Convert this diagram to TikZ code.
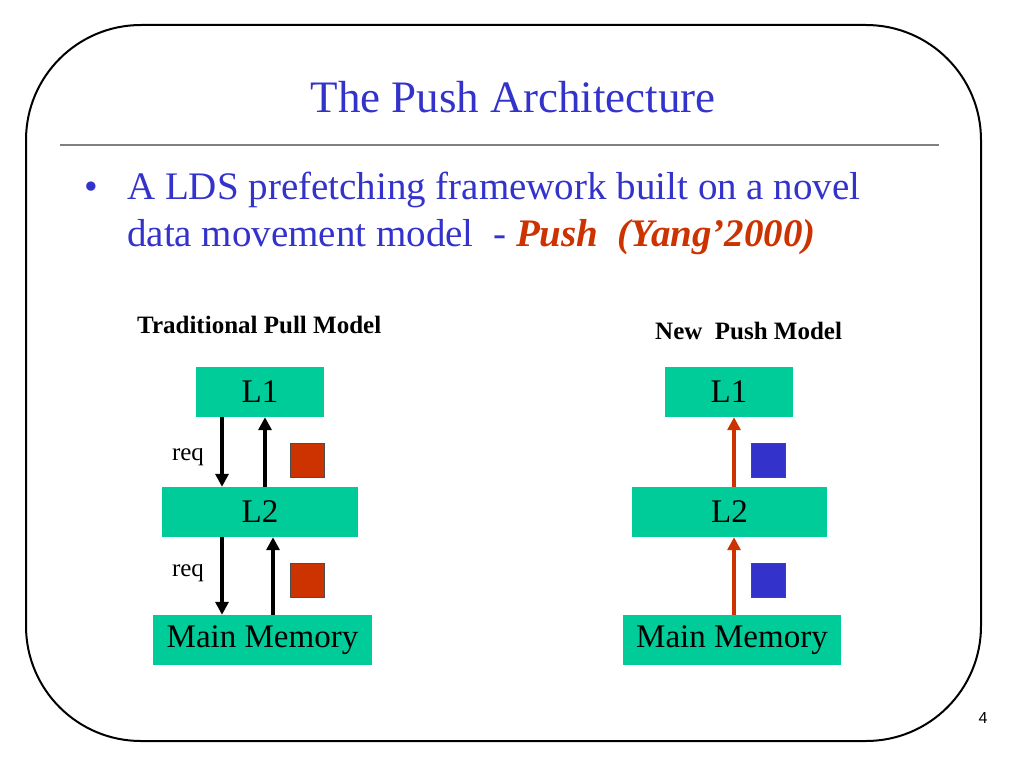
\documentclass[tikz,border=0pt]{standalone}
\usepackage{fontspec}
\setmainfont{Liberation Serif}
\newfontfamily\pagefont{Liberation Sans}
\usetikzlibrary{arrows.meta}
\definecolor{ttl}{RGB}{51,51,204}
\definecolor{pushred}{RGB}{204,51,0}
\definecolor{teal}{RGB}{0,204,153}
\definecolor{sqblue}{RGB}{51,51,204}
\definecolor{rulegray}{RGB}{128,128,128}
\tikzset{
  box/.style={fill=teal, inner sep=0pt, minimum height=50pt, font=\fontsize{33}{35}\selectfont},
  sq/.style={draw=black!70, line width=0.6pt, minimum size=34pt, inner sep=0pt},
  arr/.style={line width=3.4pt, -{Triangle[width=13pt,length=13pt]}},
  lbl/.style={inner sep=0pt, anchor=base, font=\bfseries\fontsize{25}{27}\selectfont},
  reqtxt/.style={inner sep=0pt, font=\fontsize{25}{27}\selectfont},
  bodytxt/.style={inner sep=0pt, anchor=base west, text=ttl, font=\fontsize{39}{41}\selectfont},
}
\begin{document}
\begin{tikzpicture}[x=1pt,y=-1pt]
\useasboundingbox (0,0) rectangle (1024,768);
\draw[line width=2pt, rounded corners=115pt] (26,25) rectangle (981,741);
\node[inner sep=0pt, anchor=base, text=ttl, font=\fontsize{45}{47}\selectfont] (title) at (513,112) {The Push Architecture};
\draw[rulegray, line width=2pt] (60,145) -- (939,145);
\node[bodytxt] (bullet) at (84,199) {\textbullet};
\node[bodytxt] (line1) at (127,199) {A LDS prefetching framework built on a novel};
\node[bodytxt] (line2) at (127,246) {data movement model\ \ - \textcolor{pushred}{\bfseries\itshape Push\ \ (Yang'2000)}};
\node[lbl, anchor=base west] (lpull) at (137,333) {Traditional Pull Model};
\node[lbl, anchor=base west] (lpush) at (655,339) {New\ \ Push Model};
% left
\node[box, minimum width=128pt] (l1a) at (260,392) {L1};
\node[box, minimum width=196pt] (l2a) at (260,512) {L2};
\node[box, minimum width=219pt] (mma) at (262.5,640) {Main Memory};
\draw[arr] ([xshift=-38pt]l1a.south) -- ([xshift=-38pt]l2a.north);
\draw[arr] ([xshift=5pt]l2a.north) -- ([xshift=5pt]l1a.south);
\draw[arr] ([xshift=-38pt]l2a.south) -- ([xshift=-40.5pt]mma.north);
\draw[arr] ([xshift=10.5pt]mma.north) -- ([xshift=13pt]l2a.south);
\node[reqtxt] (req1) at (188,457) {req};
\node[reqtxt] (req2) at (188,573) {req};
\node[sq, fill=pushred] (sqa1) at (307,460) {};
\node[sq, fill=pushred] (sqa2) at (307,580) {};
% right
\node[box, minimum width=128pt] (l1b) at (729,392) {L1};
\node[box, minimum width=195pt] (l2b) at (729.5,512) {L2};
\node[box, minimum width=218pt] (mmb) at (732,640) {Main Memory};
\draw[arr, pushred] ([xshift=4.5pt]l2b.north) -- ([xshift=5pt]l1b.south);
\draw[arr, pushred] ([xshift=2pt]mmb.north) -- ([xshift=4.5pt]l2b.south);
\node[sq, fill=sqblue] (sqb1) at (768,460) {};
\node[sq, fill=sqblue] (sqb2) at (768,580) {};
\node[inner sep=0pt, font=\pagefont\fontsize{16}{18}\selectfont] (pnum) at (983,718) {4};
\end{tikzpicture}
\end{document}
